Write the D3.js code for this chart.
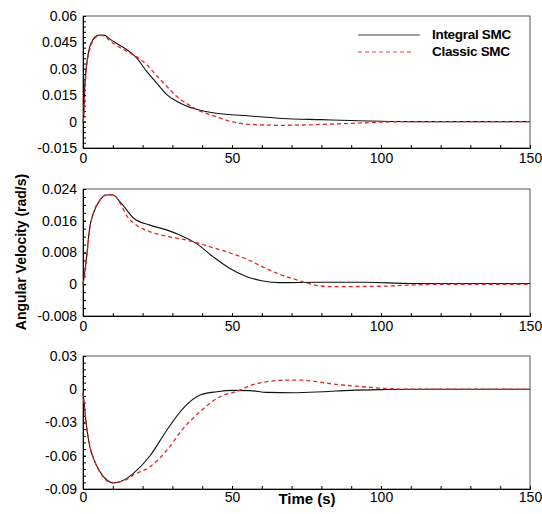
<!DOCTYPE html>
<html>
<head>
<meta charset="utf-8">
<script src="https://cdn.jsdelivr.net/npm/d3@7"></script>
<style>
  body { margin: 0; background: #fff; }
  svg { font-family: "Liberation Sans", Arial, sans-serif; }
</style>
</head>
<body>
<svg id="plot" width="542" height="514"></svg>
<script>
// X axis (time, seconds)
const xTicks = [0, 50, 100, 150];

// Panel 1
const t1Int = [0, 0.3, 0.6, 1.1, 2.2, 3.4, 4.5, 5.6, 7.3, 8.9, 11.2, 14.5, 17.9, 21.3, 24.6, 28, 31.3, 34.7, 38, 44.7, 56, 67, 80, 90, 100, 110, 150];
const v1Int = [0, 0.005, 0.02, 0.031, 0.042, 0.0467, 0.0486, 0.0492, 0.049, 0.047, 0.0445, 0.0411, 0.0363, 0.0287, 0.0221, 0.0155, 0.0117, 0.0089, 0.007, 0.0047, 0.0032, 0.0018, 0.0011, 0.0006, 0.0002, 0, 0];
const t1Cls = [0, 0.3, 0.6, 1.1, 2.2, 3.4, 4.5, 5.6, 7.3, 8.9, 11.2, 14.5, 17.9, 21.3, 24.6, 28, 31.3, 34.7, 38, 41.4, 44.7, 50.3, 56, 67, 80, 90, 100, 110, 150];
const v1Cls = [0, 0.004, 0.017, 0.029, 0.0405, 0.046, 0.0482, 0.049, 0.0486, 0.046, 0.0433, 0.0401, 0.0369, 0.0325, 0.0263, 0.0202, 0.0145, 0.0104, 0.007, 0.0047, 0.0028, -0.0002, -0.0016, -0.0021, -0.0016, -0.001, -0.0003, 0, 0];
const y1Ticks = [0.06, 0.045, 0.03, 0.015, 0, -0.015];
const y1Labels = ["0.06", "0.045", "0.03", "0.015", "0", "-0.015"];

// Panel 2
const t2Int = [0, 0.7, 1.2, 2.3, 3.5, 5.7, 8, 10, 12.4, 14.7, 16.9, 22.5, 28, 32.5, 38, 43.7, 49, 55, 60, 66, 80, 95, 110, 150];
const v2Int = [0, 0.0036, 0.0069, 0.0145, 0.0179, 0.0212, 0.0225, 0.0225, 0.0208, 0.0187, 0.0167, 0.0149, 0.0137, 0.0124, 0.0103, 0.0069, 0.0041, 0.0019, 0.0009, 0.0004, 0.0005, 0.0005, 0.0002, 0.0002];
const t2Cls = [0, 0.7, 1.2, 2.3, 3.5, 5.7, 8, 10, 12.4, 14.7, 16.9, 22.5, 28, 33.6, 39, 43.7, 49, 55, 60.5, 66, 71.7, 76.5, 83, 100, 110, 120, 150];
const v2Cls = [0, 0.003, 0.0065, 0.014, 0.018, 0.0212, 0.0226, 0.0226, 0.0205, 0.0172, 0.0155, 0.0132, 0.0121, 0.0113, 0.0103, 0.0092, 0.008, 0.0063, 0.0043, 0.0025, 0.0011, 0, -0.0006, -0.0005, -0.0002, 0, 0];
const y2Ticks = [0.024, 0.016, 0.008, 0, -0.008];
const y2Labels = ["0.024", "0.016", "0.008", "0", "-0.008"];

// Panel 3
const t3Int = [0, 0.7, 1.2, 2.3, 3.5, 5.7, 8, 10, 12.4, 14.7, 16.9, 22.5, 28, 33.6, 39.3, 44.9, 50.5, 56, 61.6, 70.6, 80.6, 89.6, 100.7, 110, 150];
const v3Int = [-0.003, -0.0217, -0.0338, -0.0519, -0.0624, -0.0744, -0.0819, -0.0843, -0.0834, -0.0804, -0.0759, -0.06, -0.0374, -0.0172, -0.0052, -0.0022, -0.001, -0.0012, -0.0028, -0.0031, -0.0022, -0.001, -0.0003, 0, 0];
const t3Cls = [0, 0.7, 1.2, 2.3, 3.5, 5.7, 8, 10, 12.4, 14.7, 16.9, 22.5, 28, 33.6, 39.3, 45, 52.7, 56, 61.6, 69.5, 72.8, 78.4, 84, 89.6, 95, 100.7, 110, 150];
const v3Cls = [-0.003, -0.021, -0.033, -0.051, -0.062, -0.075, -0.0825, -0.0845, -0.0835, -0.0813, -0.0774, -0.07, -0.0555, -0.0355, -0.0202, -0.0082, -0.0007, 0.0032, 0.0068, 0.0083, 0.0083, 0.0068, 0.0047, 0.0032, 0.002, 0.0008, 0, 0];
const y3Ticks = [0.03, 0, -0.03, -0.06, -0.09];
const y3Labels = ["0.03", "0", "-0.03", "-0.06", "-0.09"];

const seriesNames = ["Integral SMC", "Classic SMC"];

const panels = [
    { top: 16, bottom: 148, yt: y1Ticks, yl: y1Labels, minor: 5, pad: 5,
      series: [[t1Int, v1Int], [t1Cls, v1Cls]] },
    { top: 189, bottom: 316, yt: y2Ticks, yl: y2Labels, minor: 4, pad: 5,
      series: [[t2Int, v2Int], [t2Cls, v2Cls]] },
    { top: 356, bottom: 489, yt: y3Ticks, yl: y3Labels, minor: 5, pad: 3.5,
      series: [[t3Int, v3Int], [t3Cls, v3Cls]] }
];

const left = 83, right = 530;
const svg = d3.select("#plot");
const x = d3.scaleLinear().domain([0, 150]).range([left, right]);
const styles = [
    { stroke: "#111", width: 1.1, dash: null },
    { stroke: "#e3262b", width: 1.3, dash: "4,3" }
];

panels.forEach(function (p) {
    const y = d3.scaleLinear()
        .domain([p.yt[p.yt.length - 1], p.yt[0]])
        .range([p.bottom, p.top]);
    const g = svg.append("g");

    // frame
    g.append("rect")
        .attr("x", left).attr("y", p.top)
        .attr("width", right - left).attr("height", p.bottom - p.top)
        .attr("fill", "none").attr("stroke", "#555").attr("stroke-width", 1);

    // minor ticks
    const step = (p.yt[0] - p.yt[1]) / p.minor;
    const minorY = d3.range(0, Math.round((p.yt[0] - p.yt[p.yt.length - 1]) / step) + 1)
        .map((i) => p.yt[p.yt.length - 1] + i * step);
    g.append("g")
        .attr("transform", "translate(" + left + ",0)")
        .call(d3.axisLeft(y).tickValues(minorY).tickSize(-3).tickFormat(""))
        .call((a) => a.select(".domain").remove());
    g.append("g")
        .attr("transform", "translate(0," + p.bottom + ")")
        .call(d3.axisBottom(x).tickValues(d3.range(0, 151, 10)).tickSize(-3).tickFormat(""))
        .call((a) => a.select(".domain").remove());

    // major axes
    const ya = g.append("g")
        .attr("transform", "translate(" + left + ",0)")
        .call(d3.axisLeft(y).tickValues(p.yt).tickSize(-3).tickPadding(6)
            .tickFormat((d, i) => p.yl[i]));
    ya.selectAll("text").attr("font-size", "14px").attr("fill", "#000");
    ya.select(".domain").attr("stroke", "#000");

    const xa = g.append("g")
        .attr("transform", "translate(0," + p.bottom + ")")
        .call(d3.axisBottom(x).tickValues(xTicks).tickSize(-3).tickPadding(p.pad));
    xa.selectAll("text").attr("font-size", "14px").attr("fill", "#000");
    xa.select(".domain").attr("stroke", "#000");

    // curves
    p.series.forEach(function (s, k) {
        const pts = s[0].map((t, i) => [t, s[1][i]]);
        g.append("path")
            .datum(pts)
            .attr("fill", "none")
            .attr("stroke", styles[k].stroke)
            .attr("stroke-width", styles[k].width)
            .attr("stroke-dasharray", styles[k].dash)
            .attr("d", d3.line()
                .x((d) => x(d[0]))
                .y((d) => y(d[1]))
                .curve(d3.curveMonotoneX));
    });
});

// legend
const legend = svg.append("g");
seriesNames.forEach(function (name, k) {
    const ly = 35 + k * 17;
    legend.append("line")
        .attr("x1", 358).attr("x2", k === 0 ? 420 : 412)
        .attr("y1", ly).attr("y2", ly)
        .attr("stroke", k === 0 ? "#444" : "#f08080")
        .attr("stroke-width", k === 0 ? 1.2 : 1.5)
        .attr("stroke-dasharray", styles[k].dash);
    legend.append("text")
        .attr("x", 432).attr("y", ly + 4)
        .attr("font-size", "13.5px").attr("font-weight", "bold")
        .attr("letter-spacing", "-0.3px")
        .text(name);
});

// axis titles
svg.append("text")
    .attr("transform", "translate(26,252) rotate(-90)")
    .attr("text-anchor", "middle")
    .attr("font-size", "14px").attr("font-weight", "bold")
    .text("Angular Velocity (rad/s)");

svg.append("text")
    .attr("x", 307).attr("y", 504)
    .attr("text-anchor", "middle")
    .attr("font-size", "15px").attr("font-weight", "bold")
    .text("Time (s)");
</script>
</body>
</html>
